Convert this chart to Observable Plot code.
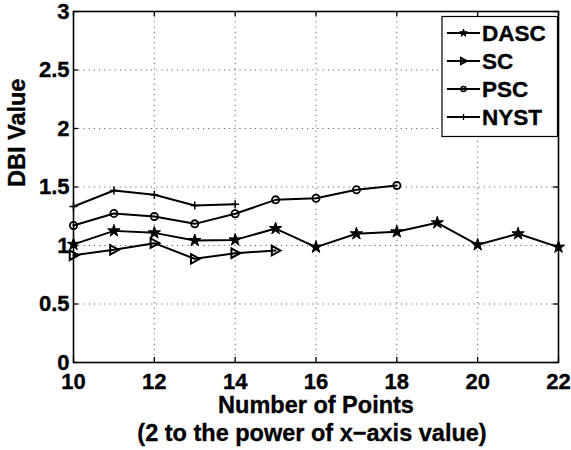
<!DOCTYPE html>
<html>
<head>
<meta charset="utf-8">
<script src="https://cdn.jsdelivr.net/npm/d3@7"></script>
<script src="https://cdn.jsdelivr.net/npm/@observablehq/plot@0.6"></script>
<style>
  html, body { margin: 0; padding: 0; background: #fff; }
  svg { display: block; font-family: "Liberation Sans", Arial, sans-serif; }
</style>
</head>
<body>
<div id="chart"></div>
<script>
// ---- data ----
const seriesNames = ["DASC", "SC", "PSC", "NYST"];
const xDASC = [10, 11, 12, 13, 14, 15, 16, 17, 18, 19, 20, 21, 22];
const yDASC = [1.01, 1.125, 1.108, 1.043, 1.048, 1.145, 0.986, 1.10, 1.117, 1.194, 1.006, 1.10, 0.986];
const xSC = [10, 11, 12, 13, 14, 15];
const ySC = [0.917, 0.963, 1.02, 0.886, 0.934, 0.957];
const xPSC = [10, 11, 12, 13, 14, 15, 16, 17, 18];
const yPSC = [1.171, 1.274, 1.248, 1.185, 1.271, 1.39, 1.404, 1.476, 1.513];
const xNYST = [10, 11, 12, 13, 14];
const yNYST = [1.333, 1.47, 1.433, 1.342, 1.353];
const xTicks = [10, 12, 14, 16, 18, 20, 22];
const yTicks = [0, 0.5, 1, 1.5, 2, 2.5, 3];
const yTickLabels = ["0", "0.5", "1", "1.5", "2", "2.5", "3"];
const xLabel1 = "Number of Points";
const xLabel2 = "(2 to the power of x\u2212axis value)";
const yLabel = "DBI Value";

// ---- build table ----
const toRows = (name, xs, ys) => xs.map((x, i) => ({series: name, x, y: ys[i]}));
const rowsBy = {
  DASC: toRows("DASC", xDASC, yDASC),
  SC: toRows("SC", xSC, ySC),
  PSC: toRows("PSC", xPSC, yPSC),
  NYST: toRows("NYST", xNYST, yNYST)
};
const rows = seriesNames.flatMap(n => rowsBy[n]);

// ---- custom symbols: r option = pixel radius ----
const rad = size => Math.sqrt(size / Math.PI);
const starSym = {draw(ctx, size) { const r = rad(size); d3.symbolStar.draw(ctx, r * r / 0.8908130915292852); }};
const triRight = {draw(ctx, size) {
  const r = rad(size);
  ctx.moveTo(r, 0); ctx.lineTo(-r * 0.75, -r * 0.95); ctx.lineTo(-r * 0.75, r * 0.95); ctx.closePath();
}};
const circSym = {draw(ctx, size) { const r = rad(size); ctx.moveTo(r, 0); ctx.arc(0, 0, r, 0, 2 * Math.PI); }};
const plusSym = {draw(ctx, size) {
  const r = rad(size);
  ctx.moveTo(-r, 0); ctx.lineTo(r, 0); ctx.moveTo(0, -r); ctx.lineTo(0, r);
}};
const symStyle = {
  DASC: {symbol: starSym, fill: "black", stroke: "black", strokeWidth: 1, r: 6.5},
  SC: {symbol: triRight, fill: "none", stroke: "black", strokeWidth: 2, r: 5},
  PSC: {symbol: circSym, fill: "none", stroke: "black", strokeWidth: 1.8, r: 3.6},
  NYST: {symbol: plusSym, fill: "none", stroke: "black", strokeWidth: 1.5, r: 4}
};

const W = 571, H = 450;
const mL = 73, mR = 13, mT = 11, mB = 88;
const plotW = W - mL - mR, plotH = H - mT - mB;
const tickFont = {fontSize: 22, fontWeight: "bold", fill: "black", stroke: "black", strokeWidth: 0.35};
const labelFont = {fontSize: 23.5, fontWeight: "bold", fill: "black", stroke: "black", strokeWidth: 0.35};

const chart = Plot.plot({
  width: W, height: H,
  marginLeft: mL, marginRight: mR, marginTop: mT, marginBottom: mB,
  x: {domain: [10, 22], axis: null},
  y: {domain: [0, 3], axis: null},
  style: {fontFamily: "'Liberation Sans', Arial, sans-serif", background: "white"},
  marks: [
    Plot.gridX(xTicks.slice(1, -1), {stroke: "#666", strokeOpacity: 1, strokeWidth: 1, strokeDasharray: "1.2,4"}),
    Plot.gridY(yTicks.slice(1, -1), {stroke: "#666", strokeOpacity: 1, strokeWidth: 1, strokeDasharray: "1.2,4"}),
    // inward ticks on all four sides
    Plot.tickX(xTicks, {x: d => d, insetTop: plotH - 5, stroke: "black", strokeWidth: 1.3}),
    Plot.tickX(xTicks, {x: d => d, insetBottom: plotH - 5, stroke: "black", strokeWidth: 1.3}),
    Plot.tickY(yTicks, {y: d => d, insetRight: plotW - 5, stroke: "black", strokeWidth: 1.3}),
    Plot.tickY(yTicks, {y: d => d, insetLeft: plotW - 5, stroke: "black", strokeWidth: 1.3}),
    // series lines
    Plot.line(rows, {x: "x", y: "y", z: "series", stroke: "black", strokeWidth: 2}),
    ...seriesNames.map(n => Plot.dot(rowsBy[n], {x: "x", y: "y", ...symStyle[n]})),
    Plot.frame({stroke: "black", strokeWidth: 1.6}),
    // tick labels
    Plot.text(xTicks, {x: d => d, frameAnchor: "bottom", lineAnchor: "top", dy: 11, text: d => String(d), ...tickFont}),
    Plot.text(yTicks, {y: d => d, frameAnchor: "left", textAnchor: "end", lineAnchor: "middle", dx: -4, text: (d, i) => yTickLabels[i], ...tickFont}),
    // axis labels
    Plot.text([xLabel1], {frameAnchor: "bottom", lineAnchor: "top", dy: 34, text: d => d, ...labelFont}),
    Plot.text([xLabel2], {frameAnchor: "bottom", lineAnchor: "top", dy: 62, dx: -4, text: d => d, ...labelFont}),
    Plot.text([yLabel], {frameAnchor: "left", rotate: -90, dx: -56, lineAnchor: "middle", text: d => d, ...labelFont})
  ]
});

// ---- legend (inside the axes, top right) ----
const svg = d3.select(chart);
const lg = svg.append("g").attr("text-anchor", "start");
lg.append("rect").attr("x", 442).attr("y", 16.5).attr("width", 115.5).attr("height", 120)
  .attr("fill", "white").attr("stroke", "black").attr("stroke-width", 1.2);
const legendSym = {
  DASC: {sym: starSym, r: 4, fill: "black", sw: 1},
  SC: {sym: triRight, r: 3.5, fill: "none", sw: 1.8},
  PSC: {sym: circSym, r: 2.5, fill: "none", sw: 1.5},
  NYST: {sym: plusSym, r: 3, fill: "none", sw: 1.3}
};
seriesNames.forEach((n, i) => {
  const cy = 33 + i * 28;
  const g = lg.append("g");
  g.append("line").attr("x1", 447).attr("x2", 480).attr("y1", cy).attr("y2", cy)
    .attr("stroke", "black").attr("stroke-width", 2);
  const s = legendSym[n];
  g.append("path").attr("transform", `translate(463.5,${cy})`)
    .attr("d", d3.symbol(s.sym, Math.PI * s.r * s.r)())
    .attr("fill", s.fill).attr("stroke", "black").attr("stroke-width", s.sw);
  g.append("text").attr("x", 482).attr("y", cy).attr("dy", "0.36em")
    .attr("font-size", 22.5).attr("font-weight", "bold").attr("fill", "black")
    .attr("stroke", "black").attr("stroke-width", 0.35).text(n);
});

document.getElementById("chart").appendChild(chart);
</script>
</body>
</html>
